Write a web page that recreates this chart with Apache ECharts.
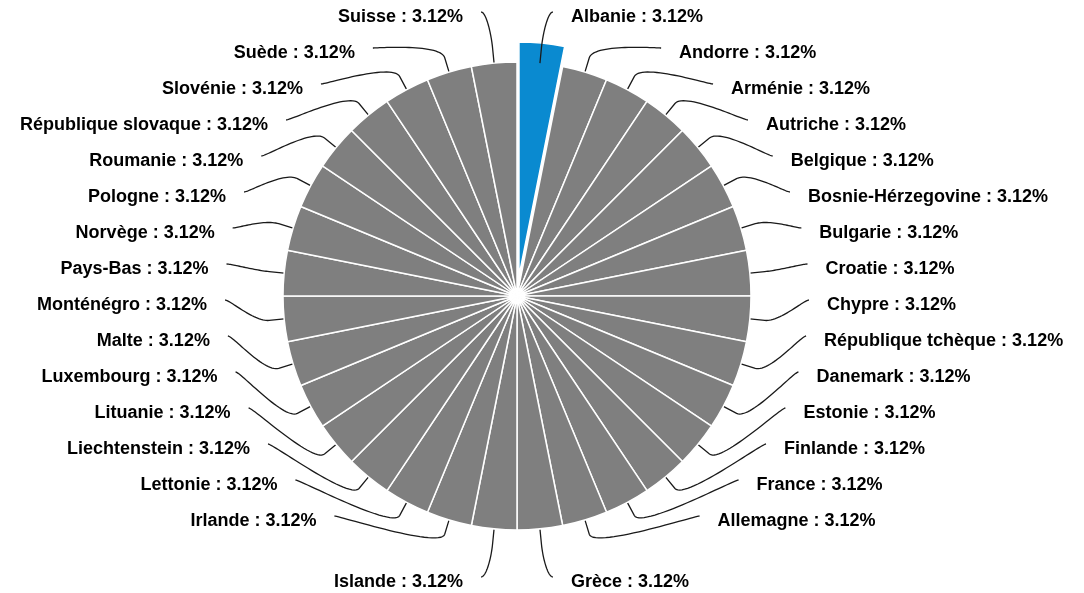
<!DOCTYPE html>
<html><head><meta charset="utf-8">
<script src="https://cdn.jsdelivr.net/npm/echarts@6/dist/echarts.min.js"></script>
<style>html,body{margin:0;padding:0;background:#fff}#c{width:1084px;height:593px}</style>
</head><body><div id="c"></div>
<script>
// ---- data ----
const countries = ['Albanie','Andorre','Arménie','Autriche','Belgique','Bosnie-Hérzegovine','Bulgarie','Croatie','Chypre','République tchèque','Danemark','Estonie','Finlande','France','Allemagne','Grèce','Islande','Irlande','Lettonie','Liechtenstein','Lituanie','Luxembourg','Malte','Monténégro','Pays-Bas','Norvège','Pologne','Roumanie','République slovaque','Slovénie','Suède','Suisse'];
const shares = [3.12,3.12,3.12,3.12,3.12,3.12,3.12,3.12,3.12,3.12,3.12,3.12,3.12,3.12,3.12,3.12,3.12,3.12,3.12,3.12,3.12,3.12,3.12,3.12,3.12,3.12,3.12,3.12,3.12,3.12,3.12,3.12];
const selectedCountry = 'Albanie';

// ---- layout / style ----
const CX = 517, CY = 296, R = 234, SEL_OFFSET = 20;
const GRAY = '#7f7f7f', BLUE = '#0a8ad0', NONE = 'rgba(0,0,0,0)';
const perSide = Math.ceil(countries.length / 2);
const LABEL_TOP = 16, LABEL_STEP = 36, LABEL_BOTTOM = 581, TEXT_DY = 1;
const ELL_CY = 298.5, ELL_A = 310, ELL_B = 286.4, ELL_P = 2.05;
const GAP = 18, BREAK = 15;

function labelPos(i) {
  const right = i < perSide;
  const k = right ? i : countries.length - 1 - i;
  const y = k < perSide - 1 ? LABEL_TOP + LABEL_STEP * k : LABEL_BOTTOM;
  const r = Math.min(1, Math.abs(y - ELL_CY) / ELL_B);
  const dx = ELL_A * Math.pow(Math.max(0, 1 - Math.pow(r, ELL_P)), 1 / ELL_P);
  return { right, x: right ? CX + dx : CX - dx, y };
}

// offset of the pulled-out slice, along its bisector (from the data)
const total = shares.reduce((a, b) => a + b, 0);
const selIdx = countries.indexOf(selectedCountry);
const before = shares.slice(0, selIdx).reduce((a, b) => a + b, 0);
const selMid = 2 * Math.PI * (before + shares[selIdx] / 2) / total;
const selCenter = [CX + Math.sin(selMid) * SEL_OFFSET, CY - Math.cos(selMid) * SEL_OFFSET];

const labelStyle = {
  show: true,
  position: 'outside',
  overflow: 'none',
  fontFamily: 'Liberation Sans, Arial, sans-serif',
  fontWeight: 'bold',
  fontSize: 18,
  color: '#000',
  formatter: p => p.name + ' : ' + p.value.toFixed(2) + '%'
};

function layoutLabel(params) {
  const p = labelPos(params.dataIndex);
  const s = params.labelLinePoints ? params.labelLinePoints[0] : [CX, CY - 1];
  let ux = s[0] - CX, uy = s[1] - CY;
  const L = Math.hypot(ux, uy) || 1; ux /= L; uy /= L;
  const S = [CX + ux * R, CY + uy * R];
  const P1 = [S[0] + ux * BREAK, S[1] + uy * BREAK];
  const C2 = [P1[0] + ux * BREAK, P1[1] + uy * BREAK];
  const dir = p.right ? 1 : -1;
  const E = [p.x - dir * GAP, p.y - 4];
  const C1 = [E[0] - dir * 5, E[1]];
  const pts = [S, P1];
  const N = 30;
  for (let t = 1; t <= N; t++) {
    const u = t / N, v = 1 - u;
    pts.push([
      v*v*v*P1[0] + 3*v*v*u*C2[0] + 3*v*u*u*C1[0] + u*u*u*E[0],
      v*v*v*P1[1] + 3*v*v*u*C2[1] + 3*v*u*u*C1[1] + u*u*u*E[1]
    ]);
  }
  return { x: p.x, y: p.y + TEXT_DY, align: p.right ? 'left' : 'right', verticalAlign: 'middle', labelLinePoints: pts };
}

const chart = echarts.init(document.getElementById('c'), null, { renderer: 'canvas' });
chart.setOption({
  animation: false,
  backgroundColor: '#fff',
  series: [{
    // all slices, with labels; the pulled-out slice is drawn by the next series
    type: 'pie',
    z: 3,
    center: [CX, CY],
    radius: [0, R],
    startAngle: 90,
    clockwise: true,
    avoidLabelOverlap: false,
    emphasis: { disabled: true },
    silent: true,
    itemStyle: { color: GRAY, borderColor: '#fff', borderWidth: 1.5 },
    label: labelStyle,
    labelLine: { show: true, smooth: false, length: 15, length2: 10, lineStyle: { color: '#1a1a1a', width: 1.3 } },
    labelLayout: layoutLabel,
    data: countries.map((n, i) => ({
      name: n,
      value: shares[i],
      itemStyle: n === selectedCountry ? { color: NONE, borderColor: NONE } : undefined
    }))
  }, {
    // the selected slice, pulled out along its bisector
    type: 'pie',
    z: 2,
    center: selCenter,
    radius: [0, R],
    startAngle: 90,
    clockwise: true,
    silent: true,
    emphasis: { disabled: true },
    label: { show: false },
    labelLine: { show: false },
    data: countries.map((n, i) => ({
      name: n,
      value: shares[i],
      itemStyle: n === selectedCountry
        ? { color: BLUE, borderColor: '#fff', borderWidth: 1.5 }
        : { color: NONE, borderColor: NONE, borderWidth: 0 }
    }))
  }]
});
</script></body></html>
